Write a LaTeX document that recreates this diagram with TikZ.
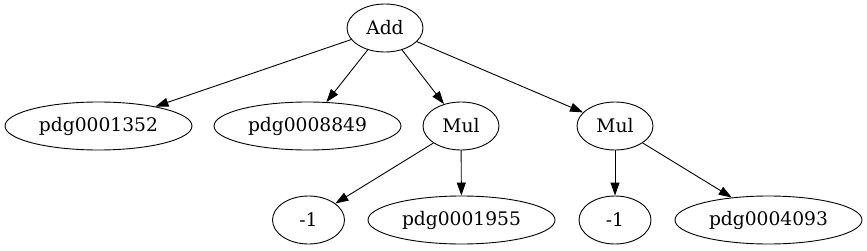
\documentclass[tikz,border=0pt]{standalone}
\usepackage{fontspec}
\setmainfont{DejaVu Serif}
\usetikzlibrary{arrows.meta, shapes.geometric}

\begin{document}
\begin{tikzpicture}[x=1pt, y=-1pt, line width=0.9pt,
    every node/.style={font=\fontsize{18.67}{22}\selectfont},
    op/.style={draw, ellipse, inner sep=0pt, minimum width=76pt, minimum height=48pt},
    leaf/.style={draw, ellipse, inner sep=0pt, minimum width=187pt, minimum height=48pt},
    num/.style={draw, ellipse, inner sep=0pt, minimum width=72pt, minimum height=48pt},
    edge/.style={-{Triangle[length=13pt, width=9pt]}}]
        \useasboundingbox (0,0) rectangle (867,251);
        % root
        \node[op] (add) at (385,28) {Add};
        % first level
        \node[leaf] (p1352) at (98.5,126) {pdg0001352};
        \node[leaf] (p8849) at (307.5,126) {pdg0008849};
        \node[op] (mula) at (461,126) {Mul};
        \node[op] (mulb) at (615,126) {Mul};
        % second level
        \node[num] (ma) at (308.5,220) {-1};
        \node[leaf] (p1955) at (461.5,220) {pdg0001955};
        \node[num] (mb) at (615,220) {-1};
        \node[leaf] (p4093) at (768.5,220) {pdg0004093};
        \draw[edge] (add) -- (p1352);
        \draw[edge] (add) -- (p8849);
        \draw[edge] (add) -- (mula);
        \draw[edge] (add) -- (mulb);
        \draw[edge] (mula) -- (ma);
        \draw[edge] (mula) -- (p1955);
        \draw[edge] (mulb) -- (mb);
        \draw[edge] (mulb) -- (p4093);
      \end{tikzpicture}
\end{document}
